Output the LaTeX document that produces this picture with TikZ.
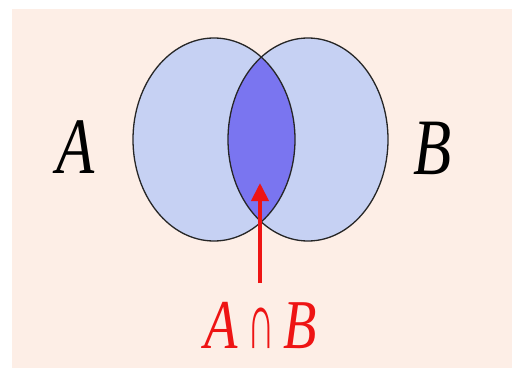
\documentclass[tikz,border=0pt]{standalone}
\usepackage{fontspec}
\setmainfont{Liberation Serif}
\usetikzlibrary{arrows.meta}
\definecolor{peach}{RGB}{253,238,230}
\definecolor{setfill}{RGB}{198,209,243}
\definecolor{capfill}{RGB}{122,117,240}
\definecolor{capred}{RGB}{238,20,20}

\begin{document}
\begin{tikzpicture}[x=1pt, y=1pt,
    setlabel/.style={font=\fontsize{80}{80}\selectfont\itshape, xscale=0.78, inner sep=0pt},
    outline/.style={draw=black!85, line width=1.3pt}]
    % Background
    \fill[white] (0,0) rectangle (512,368);
    \fill[peach] (12,0) rectangle (512,359);

    % Sets
    \fill[setfill] (214,228.5) ellipse [x radius=81, y radius=101.5];
    \fill[setfill] (308,228.5) ellipse [x radius=80, y radius=101.5];
    \begin{scope}
        \clip (214,228.5) ellipse [x radius=81, y radius=101.5];
        \fill[capfill] (308,228.5) ellipse [x radius=80, y radius=101.5];
    \end{scope}
    \draw[outline] (214,228.5) ellipse [x radius=81, y radius=101.5];
    \draw[outline] (308,228.5) ellipse [x radius=80, y radius=101.5];

    % Labels
    \node[setlabel] (setA) at (76,221) {A};
    \node[setlabel] (setB) at (433,219.5) {B};
    \node[setlabel, font=\fontsize{70}{70}\selectfont\itshape, text=capred] (inter) at (261,43)
        {A\,\scalebox{0.7}[1.15]{\upshape ∩}\,B};

    % Arrow
    \coordinate (foot) at (260,85);
    \coordinate (tip) at (260,185);
    \draw[-{Triangle[length=18pt, width=17pt]}, capred, line width=4pt] (foot) -- (tip);
\end{tikzpicture}
\end{document}
